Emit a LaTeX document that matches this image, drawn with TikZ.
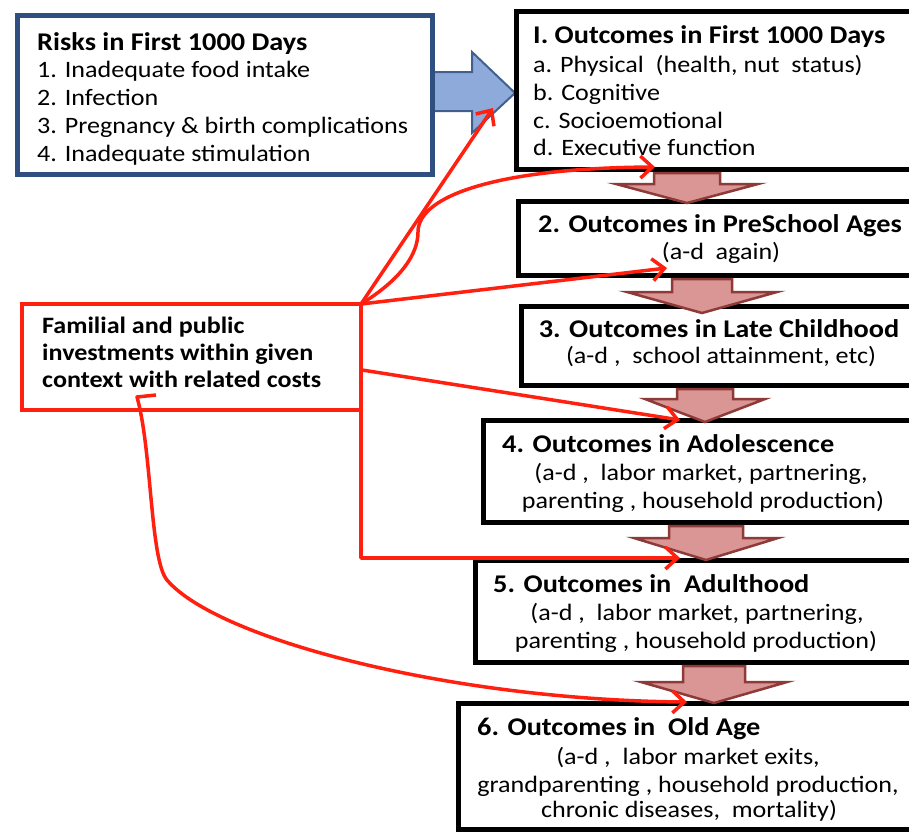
\documentclass[tikz,border=0pt]{standalone}
\usepackage{fontspec}
\setmainfont{Carlito}[FakeStretch=1.11]
\usetikzlibrary{arrows.meta}
\definecolor{navy}{HTML}{2F4F80}
\definecolor{bluefill}{HTML}{8EAADB}
\definecolor{blueedge}{HTML}{41608F}
\definecolor{brownfill}{HTML}{D99694}
\definecolor{brownedge}{HTML}{8E3A38}
\definecolor{redline}{HTML}{FF2010}
\newcommand\dnarrow[6]{\draw[brarrow] (#1-#3,#2) -- (#1+#3,#2) -- (#1+#3,#4) -- (#1+#5,#4) -- (#1,#6) -- (#1-#5,#4) -- (#1-#3,#4) -- cycle;}
\tikzset{
 obox/.style={draw=black, line width=5pt, fill=white, inner sep=0pt, outer sep=0pt, anchor=north west},
 txt/.style={inner sep=0pt, font=\fontsize{23.5}{28}\selectfont, text=black},
 btxt/.style={inner sep=0pt, font=\fontsize{23.5}{28}\selectfont\bfseries, text=black},
 ttl/.style={inner sep=0pt, font=\fontsize{25.5}{28}\selectfont\bfseries, text=black},
 redarr/.style={draw=redline, line width=3.5pt, line join=round, -{Straight Barb[length=12pt,width=22pt,line width=3.5pt]}},
 brarrow/.style={fill=brownfill, draw=brownedge, line width=2.5pt, line join=miter},
}
\begin{document}
\begin{tikzpicture}[x=1pt,y=-1pt]
\useasboundingbox[fill=white] (0,0) rectangle (909,833);
% blue block arrow
\draw[fill=bluefill, draw=blueedge, line width=2pt, line join=miter] (425,72) -- (472,72) -- (472,52) -- (515,93) -- (472,133) -- (472,111) -- (425,111) -- cycle;
% risks box
\node[obox, draw=navy, minimum width=415pt, minimum height=159pt] (risk) at (17.5,15.5) {};
\node[ttl, anchor=base west] (r0) at (37,50) {Risks in First 1000 Days};
\node[txt, anchor=base west] (r1) at (37,77) {1. Inadequate food intake};
\node[txt, anchor=base west] (r2) at (37,105) {2. Infection};
\node[txt, anchor=base west] (r3) at (37,133) {3. Pregnancy \& birth complications};
\node[txt, anchor=base west] (r4) at (37,161) {4. Inadequate stimulation};
% outcome boxes
\node[obox, minimum width=420pt, minimum height=158pt] (b1) at (516,11) {};
\node[obox, minimum width=420pt, minimum height=74pt] (b2) at (518,201) {};
\node[obox, minimum width=420pt, minimum height=79pt] (b3) at (521,306) {};
\node[obox, minimum width=450pt, minimum height=102pt] (b4) at (483,420) {};
\node[obox, minimum width=450pt, minimum height=102pt] (b5) at (475,560) {};
\node[obox, minimum width=470pt, minimum height=126pt] (b6) at (458,703) {};
% texts
\node[ttl, anchor=base west] (o10) at (533,43) {I. Outcomes in First 1000 Days};
\node[txt, anchor=base west] (o11) at (533,72) {a. Physical ~(health, nut ~status)};
\node[txt, anchor=base west] (o12) at (533,100) {b. Cognitive};
\node[txt, anchor=base west] (o13) at (533,128) {c. Socioemotional};
\node[txt, anchor=base west] (o14) at (533,155) {d. Executive function};
\node[ttl, anchor=base] (o20) at (720,232) {2. Outcomes in PreSchool Ages};
\node[txt, anchor=base] (o21) at (721,259) {(a-d ~again)};
\node[ttl, anchor=base] (o30) at (719,337) {3. Outcomes in Late Childhood};
\node[txt, anchor=base] (o31) at (721,363) {(a-d , ~school attainment, etc)};
\node[ttl, anchor=base west] (o40) at (502,452) {4. Outcomes in Adolescence};
\node[txt, anchor=base] (o41) at (701,480) {(a-d , ~labor market, partnering,};
\node[txt, anchor=base] (o42) at (703,508) {parenting , household production)};
\node[ttl, anchor=base west] (o50) at (493,592) {5. Outcomes in ~Adulthood};
\node[txt, anchor=base] (o51) at (697,620) {(a-d , ~labor market, partnering,};
\node[txt, anchor=base] (o52) at (696,648) {parenting , household production)};
\node[ttl, anchor=base west] (o60) at (477,735) {6. Outcomes in ~Old Age};
\node[txt, anchor=base] (o61) at (688,764) {(a-d , ~labor market exits,};
\node[txt, anchor=base] (o62) at (688,792) {grandparenting , household production,};
\node[txt, anchor=base] (o63) at (689,817) {chronic diseases, ~mortality)};
% familial box
\node[obox, draw=redline, line width=4pt, minimum width=339pt, minimum height=106pt] (fam) at (22,304) {};
\node[btxt, anchor=base west] (f1) at (42,333) {Familial and public};
\node[btxt, anchor=base west] (f2) at (42,360) {investments within given};
\node[btxt, anchor=base west] (f3) at (42,387) {context with related costs};
% brown arrows
\dnarrow{687}{173}{33}{184}{71}{203}
\dnarrow{702}{279}{30}{292}{75}{313}
\dnarrow{705}{389}{28}{399}{60}{422}
\dnarrow{706}{526}{37}{538}{72}{560}
\dnarrow{714}{666}{31}{682}{73}{703}
% red connectors
\coordinate (t1) at (493,108);
\coordinate (t2) at (655,167);
\coordinate (t3) at (667,268);
\coordinate (s4) at (362,370);
\coordinate (t4) at (680,420);
\coordinate (t5) at (680,558);
\coordinate (h6) at (156,395);
\coordinate (s6) at (137,397);
\coordinate (t6) at (687,702);
\draw[redarr] (fam.north east) -- (t1);
\draw[redarr] (fam.north east) .. controls (400,280) and (418,255) .. (418,232) .. controls (418,195) and (500,168) .. (t2);
\draw[redarr] (fam.north east) -- (t3);
\draw[redarr] (s4) -- (t4);
\draw[redarr] (fam.north east) -- (fam.north east |- t5) -- (t5);
\draw[redarr] (h6) -- (s6) .. controls (152,450) and (150,560) .. (167,580) .. controls (217,639) and (450,700) .. (t6);
\end{tikzpicture}
\end{document}
